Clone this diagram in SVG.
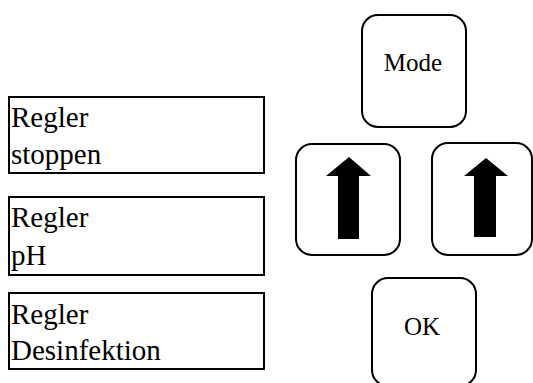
<svg xmlns="http://www.w3.org/2000/svg" width="533" height="383" viewBox="0 0 533 383">
<style>
.box{fill:#fff;stroke:#000;stroke-width:2}
.key{fill:#fff;stroke:#000;stroke-width:2}
.lbl{font-family:"Liberation Serif",serif;font-size:29px;fill:#000}
.kl{font-family:"Liberation Serif",serif;font-size:25px;fill:#000;text-anchor:middle}
.arr{fill:#000}
</style>
<rect width="533" height="383" fill="#fff"/>
<g id="regler-stoppen">
<rect class="box" x="9" y="97" width="255" height="76"/>
<text class="lbl" x="11" y="127">Regler</text>
<text class="lbl" x="11" y="164">stoppen</text>
</g>
<g id="regler-ph">
<rect class="box" x="9" y="197" width="255" height="78"/>
<text class="lbl" x="11" y="227">Regler</text>
<text class="lbl" x="11" y="265">pH</text>
</g>
<g id="regler-desinfektion">
<rect class="box" x="9" y="293" width="255" height="76"/>
<text class="lbl" x="11" y="324">Regler</text>
<text class="lbl" x="11" y="360">Desinfektion</text>
</g>
<g id="key-mode">
<rect class="key" x="362" y="15" width="104" height="112" rx="16"/>
<text class="kl" x="413" y="71">Mode</text>
</g>
<g id="key-up-left">
<rect class="key" x="296" y="144" width="104" height="111" rx="16"/>
<polygon class="arr" points="349,157 371,176 359,176 359,239 338,239 338,176 326,176"/>
</g>
<g id="key-up-right">
<rect class="key" x="432" y="143" width="100" height="112" rx="16"/>
<polygon class="arr" points="486,158 508,176 496,176 496,237 474,237 474,176 464,176"/>
</g>
<g id="key-ok">
<rect class="key" x="372" y="278" width="104" height="108" rx="16"/>
<text class="kl" x="422" y="335">OK</text>
</g>
<g id="connectors"/>
</svg>
